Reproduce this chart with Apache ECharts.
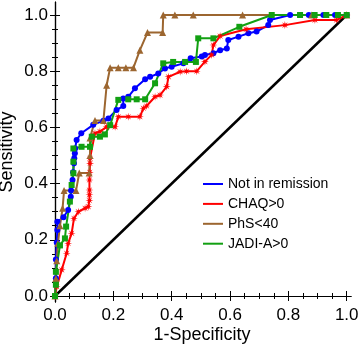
<!DOCTYPE html>
<html><head><meta charset="utf-8">
<script src="https://cdn.jsdelivr.net/npm/echarts@6/dist/echarts.min.js"></script>
<style>html,body{margin:0;padding:0;background:#fff}#c{width:358px;height:347px}</style>
</head><body><div id="c"></div>
<script>
// ---- data ----
const seriesNames = ['Not in remission', 'CHAQ>0', 'PhS<40', 'JADI-A>0'];
const majorTicks = [0, 0.2, 0.4, 0.6, 0.8, 1.0];
const minorTicks = [0.05,0.1,0.15,0.25,0.3,0.35,0.45,0.5,0.55,0.65,0.7,0.75,0.85,0.9,0.95];

const blueX = [0,0.003,0.003,0.006,0.008,0.008,0.029,0.045,0.054,0.055,0.06,0.062,0.065,0.066,0.068,0.069,0.074,0.09,0.131,0.166,0.183,0.211,0.234,0.234,0.251,0.274,0.309,0.326,0.354,0.377,0.40,0.44,0.465,0.503,0.514,0.543,0.566,0.589,0.594,0.629,0.663,0.691,0.731,0.737,0.806,0.84,0.87,0.92,0.96,1];
const blueY = [0,0.063,0.13,0.19,0.235,0.264,0.28,0.306,0.353,0.375,0.413,0.44,0.472,0.49,0.508,0.525,0.555,0.579,0.609,0.624,0.632,0.662,0.676,0.703,0.709,0.739,0.771,0.78,0.792,0.81,0.816,0.828,0.846,0.852,0.858,0.864,0.875,0.881,0.911,0.923,0.935,0.941,0.964,0.982,1,1,1,1,1,1];

const redX = [0,0.006,0.023,0.040,0.045,0.057,0.065,0.08,0.103,0.114,0.118,0.118,0.118,0.118,0.119,0.120,0.120,0.137,0.154,0.177,0.206,0.217,0.251,0.291,0.303,0.314,0.343,0.36,0.383,0.389,0.429,0.451,0.486,0.514,0.537,0.543,0.566,0.655,0.788,0.891,0.965,1];
const redY = [0,0.033,0.093,0.152,0.187,0.223,0.276,0.30,0.312,0.318,0.34,0.36,0.377,0.413,0.44,0.472,0.49,0.579,0.585,0.602,0.602,0.638,0.638,0.638,0.668,0.676,0.709,0.715,0.745,0.78,0.798,0.80,0.80,0.834,0.858,0.893,0.925,0.949,0.964,0.982,0.982,1];

const brownX = [0,0.003,0.006,0.01,0.017,0.026,0.031,0.072,0.083,0.117,0.12,0.12,0.137,0.166,0.177,0.189,0.217,0.243,0.269,0.291,0.317,0.369,0.371,0.411,0.474,0.643,0.88,1];
const brownY = [0,0.0625,0.125,0.1875,0.25,0.3125,0.375,0.375,0.4375,0.4375,0.5,0.5625,0.625,0.625,0.75,0.8125,0.8125,0.8125,0.8125,0.875,0.9375,0.9375,1,1,1,1,1,1];

const greenX = [0,0.003,0.003,0.017,0.034,0.038,0.051,0.057,0.063,0.063,0.063,0.091,0.12,0.126,0.154,0.171,0.189,0.217,0.251,0.280,0.309,0.343,0.371,0.405,0.446,0.483,0.491,0.543,0.632,0.743,0.84,0.89,0.93,0.97,1];
const greenY = [0,0.04,0.086,0.18,0.205,0.247,0.336,0.395,0.437,0.478,0.525,0.531,0.531,0.567,0.567,0.575,0.608,0.698,0.70,0.70,0.70,0.757,0.828,0.833,0.833,0.833,0.917,0.917,0.958,1,1,1,1,1,1];

const diagX = [0, 1];
const diagY = [0, 1];

// ---- helpers ----
const zip = (xs, ys) => xs.map((x, i) => [x, ys[i]]);
function starPath(n, r1, r2) {
  let d = 'path://';
  for (let i = 0; i < 2 * n; i++) {
    const a = i * Math.PI / n - Math.PI / 2;
    const r = i % 2 ? r2 : r1;
    d += (i ? 'L' : 'M') + (r * Math.cos(a)).toFixed(3) + ',' + (r * Math.sin(a)).toFixed(3) + ' ';
  }
  return d + 'Z';
}
const FONT = 'Liberation Sans, Arial, Helvetica, sans-serif';
const XMIN = -0.0069, XMAX = 1.0147, YMIN = -0.0214, YMAX = 1.0463;
const gridBox = { left: 53, top: 2, width: 298, height: 300, containLabel: false, outerBoundsMode: 'none' };

function mkAxis(type, pos, gridIndex, ticks, len, labels, extra) {
  const isX = type === 'x';
  return Object.assign({
    type: 'value', gridIndex, position: pos,
    min: isX ? XMIN : YMIN, max: isX ? XMAX : YMAX,
    axisLine: { show: gridIndex === 0, lineStyle: { color: '#000', width: 1.2 } },
    axisTick: { show: true, inside: true, length: len, customValues: ticks, lineStyle: { color: '#000', width: 1 } },
    axisLabel: labels ? { show: true, customValues: ticks, formatter: v => v.toFixed(1), color: '#000', fontSize: 17, fontFamily: FONT, margin: 5 } : { show: false },
    splitLine: { show: false }
  }, extra || {});
}

const chart = echarts.init(document.getElementById('c'), null, { renderer: 'canvas' });
const colors = ['#0000ff', '#ff0000', '#9c6630', '#12a012'];
const mk = (name, data, color, symbol, size) => ({
  name, type: 'line', data, xAxisIndex: 0, yAxisIndex: 0, clip: false,
  symbol, symbolSize: size, showSymbol: true, animation: false,
  lineStyle: { color, width: 2 }, itemStyle: { color, borderWidth: 0 }
});

chart.setOption({
  animation: false,
  backgroundColor: '#fff',
  grid: [Object.assign({}, gridBox), Object.assign({}, gridBox)],
  legend: {
    data: seriesNames, orient: 'vertical', left: 198, top: 172,
    icon: 'rect', itemWidth: 20, itemHeight: 2, itemGap: 5.9,
    textStyle: { fontSize: 14, color: '#000', fontFamily: FONT, lineHeight: 14 }
  },
  xAxis: [
    mkAxis('x', 'bottom', 0, majorTicks, 5, true, { name: '1-Specificity', nameLocation: 'middle', nameGap: 24, nameMoveOverlap: false, nameTextStyle: { fontSize: 18, color: '#000', fontFamily: FONT } }),
    mkAxis('x', 'top', 0, majorTicks, 5, false),
    mkAxis('x', 'bottom', 1, minorTicks, 3, false),
    mkAxis('x', 'top', 1, minorTicks, 3, false)
  ],
  yAxis: [
    mkAxis('y', 'left', 0, majorTicks, 5, true, { name: 'Sensitivity', nameLocation: 'middle', nameGap: 37, nameMoveOverlap: false, nameTextStyle: { fontSize: 18, color: '#000', fontFamily: FONT } }),
    mkAxis('y', 'right', 0, majorTicks, 5, false),
    mkAxis('y', 'left', 1, minorTicks, 3, false),
    mkAxis('y', 'right', 1, minorTicks, 3, false)
  ],
  series: [
    { type: 'line', data: zip(diagX, diagY), symbol: 'none', lineStyle: { color: '#000', width: 2.5 }, silent: true, z: 1 },
    mk(seriesNames[0], zip(blueX, blueY), colors[0], 'circle', 6),
    mk(seriesNames[1], zip(redX, redY), colors[1], starPath(8, 1, 0.35), 8),
    mk(seriesNames[2], zip(brownX, brownY), colors[2], 'triangle', 7),
    mk(seriesNames[3], zip(greenX, greenY), colors[3], 'rect', 6)
  ]
});
</script></body></html>
